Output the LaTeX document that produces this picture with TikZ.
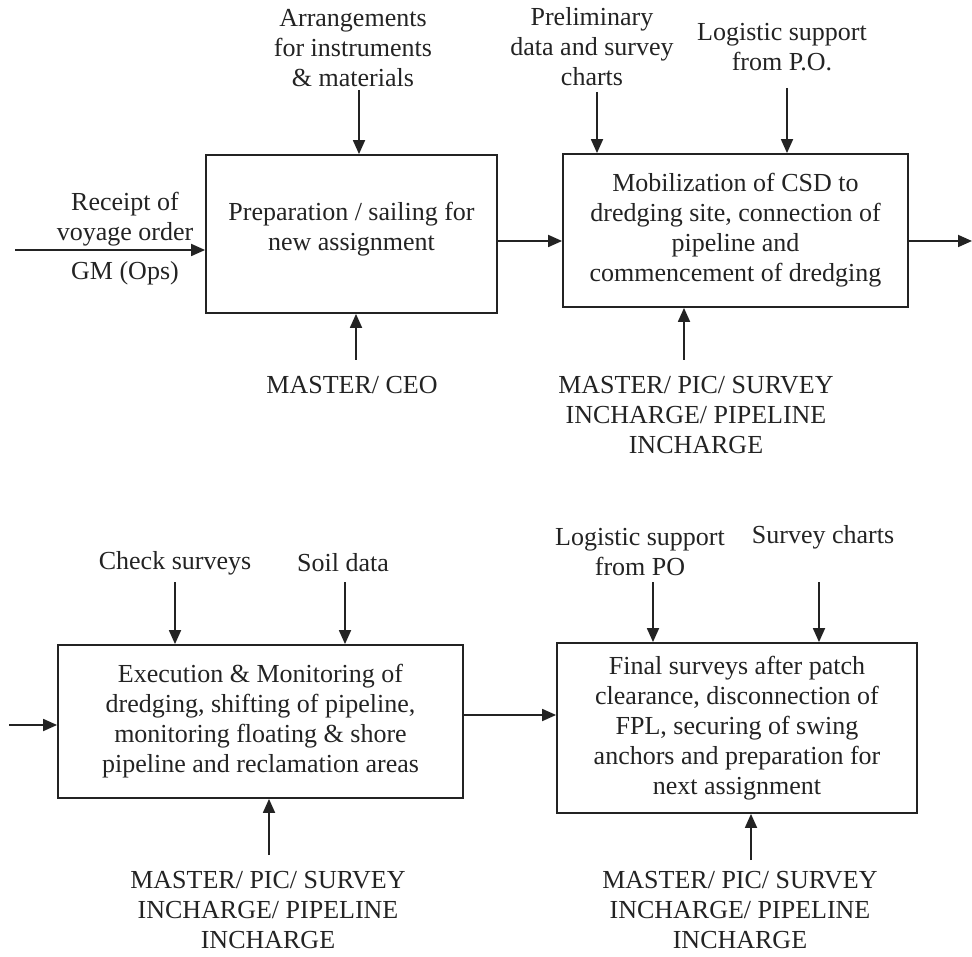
\documentclass[tikz,border=0pt]{standalone}
\usepackage{fontspec}
\setmainfont{Liberation Serif}
\usetikzlibrary{arrows.meta}
\definecolor{ink}{RGB}{35,35,35}
\begin{document}
\begin{tikzpicture}[x=1pt,y=-1pt,
  font=\fontsize{26}{30}\selectfont, text=ink,
  proc/.style={draw=ink, line width=1.8pt, align=center, inner sep=0pt},
  lbl/.style={align=center, inner sep=0pt},
  flow/.style={draw=ink, line width=1.8pt, -{Triangle[length=14pt,width=12pt]}}]
\useasboundingbox (0,0) rectangle (972,957);

% process boxes
\node[proc, minimum width=291pt, minimum height=158pt] (b1) at (351.5,234)
  {Preparation / sailing for\\new assignment\\[-14pt]};
\node[proc, minimum width=345pt, minimum height=153pt] (b2) at (735.5,230.5)
  {Mobilization of CSD to\\dredging site, connection of\\pipeline and\\commencement of dredging};
\node[proc, minimum width=405pt, minimum height=153pt] (b3) at (260.5,721.5)
  {Execution \& Monitoring of\\dredging, shifting of pipeline,\\monitoring floating \& shore\\pipeline and reclamation areas};
\node[proc, minimum width=360pt, minimum height=170pt] (b4) at (737,728)
  {Final surveys after patch\\clearance, disconnection of\\FPL, securing of swing\\anchors and preparation for\\next assignment};

% labels
\node[lbl] (rcpt) at (125,219) {Receipt of\\voyage order};
\node[lbl] (gm) at (125,273) {GM (Ops)};
\node[lbl] (arr) at (353,48) {Arrangements\\for instruments\\\& materials};
\node[lbl] (prel) at (592,47) {Preliminary\\data and survey\\charts};
\node[lbl] (logA) at (782,47) {Logistic support\\from P.O.};
\node[lbl] (mceo) at (352,385) {MASTER/ CEO};
\node[lbl] (mB) at (696,415) {MASTER/ PIC/ SURVEY\\INCHARGE/ PIPELINE\\INCHARGE};
\node[lbl] (chk) at (175,563) {Check surveys};
\node[lbl] (soil) at (343,563) {Soil data};
\node[lbl] (logB) at (640,552) {Logistic support\\from PO};
\node[lbl] (schart) at (823,537) {Survey charts};
\node[lbl] (mC) at (268,910) {MASTER/ PIC/ SURVEY\\INCHARGE/ PIPELINE\\INCHARGE};
\node[lbl] (mD) at (740,910) {MASTER/ PIC/ SURVEY\\INCHARGE/ PIPELINE\\INCHARGE};

% free ends of the connectors
\coordinate (in1) at (15,250);
\coordinate (row1) at (0,241);
\coordinate (out1) at (972,241);
\coordinate (t1) at (359,90);
\coordinate (t2) at (597,92);
\coordinate (t3) at (787,88);
\coordinate (u1) at (356,360);
\coordinate (u2) at (684,360);
\coordinate (in3) at (9,725);
\coordinate (row2) at (0,715);
\coordinate (t4) at (175,582);
\coordinate (t5) at (345,582);
\coordinate (t6) at (653,582);
\coordinate (t7) at (819,582);
\coordinate (u3) at (269,855);
\coordinate (u4) at (751,860);

% horizontal flow
\draw[flow] (in1) -- (in1 -| b1.west);
\draw[flow] (b1.east |- row1) -- (b2.west |- row1);
\draw[flow] (b2.east |- row1) -- (out1);
\draw[flow] (in3) -- (in3 -| b3.west);
\draw[flow] (b3.east |- row2) -- (b4.west |- row2);

% inputs from above
\draw[flow] (t1) -- (t1 |- b1.north);
\draw[flow] (t2) -- (t2 |- b2.north);
\draw[flow] (t3) -- (t3 |- b2.north);
\draw[flow] (t4) -- (t4 |- b3.north);
\draw[flow] (t5) -- (t5 |- b3.north);
\draw[flow] (t6) -- (t6 |- b4.north);
\draw[flow] (t7) -- (t7 |- b4.north);

% mechanisms from below
\draw[flow] (u1) -- (u1 |- b1.south);
\draw[flow] (u2) -- (u2 |- b2.south);
\draw[flow] (u3) -- (u3 |- b3.south);
\draw[flow] (u4) -- (u4 |- b4.south);
\end{tikzpicture}
\end{document}
